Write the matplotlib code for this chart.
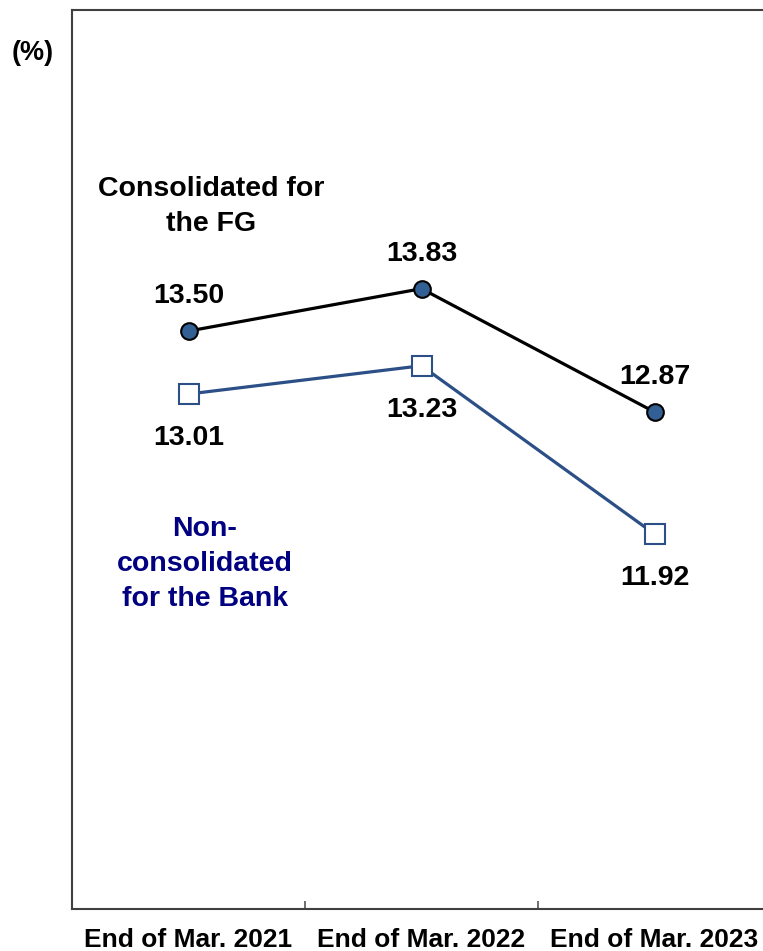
import matplotlib
matplotlib.use("Agg")
import matplotlib.pyplot as plt

plt.rcParams['font.family'] = ['Liberation Sans', 'DejaVu Sans']

categories = ["End of Mar. 2021", "End of Mar. 2022", "End of Mar. 2023"]
consolidated_fg = [13.50, 13.83, 12.87]
nonconsolidated_bank = [13.01, 13.23, 11.92]

fig = plt.figure(figsize=(7.63, 9.51), dpi=100)
ax = fig.add_axes([72 / 763, 42 / 951, 699 / 763, 899 / 951])

x = list(range(len(categories)))

ax.plot(x, consolidated_fg, color="black", lw=2.3, marker="o", markersize=12,
        markerfacecolor="#336094", markeredgecolor="black", markeredgewidth=1.5, zorder=3)
ax.plot(x, nonconsolidated_bank, color="#2B4F86", lw=2.3, marker="s", markersize=15,
        markerfacecolor="white", markeredgecolor="#2B4F86", markeredgewidth=1.5, zorder=3)

for xi, v in zip(x, consolidated_fg):
    ax.annotate(f"{v:.2f}", (xi, v), xytext=(0, 25), textcoords="offset points",
                ha="center", va="center", fontsize=20.5, fontweight="bold")
for xi, v in zip(x, nonconsolidated_bank):
    ax.annotate(f"{v:.2f}", (xi, v), xytext=(0, -32), textcoords="offset points",
                ha="center", va="center", fontsize=20.5, fontweight="bold")

ax.text(0.097, 14.47, "Consolidated for\nthe FG", ha="center", va="center",
        fontsize=20.5, fontweight="bold", color="black", linespacing=1.45)
ax.text(0.071, 11.685, "Non-\nconsolidated\nfor the Bank", ha="center", va="center",
        fontsize=20.5, fontweight="bold", color="#000080", linespacing=1.45)

ax.set_xlim(-0.5, 2.5)
ax.set_ylim(9, 16)
ax.set_yticks([])
ax.set_xticks([0.5, 1.5])
ax.set_xticklabels([])
ax.tick_params(axis="x", direction="in", length=6, width=1.2, color="#555555")
ax.set_xticks(x, minor=True)
ax.set_xticklabels(categories, minor=True, fontsize=19, fontweight="bold")
ax.tick_params(axis="x", which="minor", length=0, pad=14)

for side in ["left", "bottom", "top", "right"]:
    ax.spines[side].set_color("#404040")
    ax.spines[side].set_linewidth(1.5)

fig.text(33 / 763, 1 - 53 / 951, "(%)", ha="center", va="center",
         fontsize=19.5, fontweight="bold")

fig.savefig("out.png", dpi=100)
